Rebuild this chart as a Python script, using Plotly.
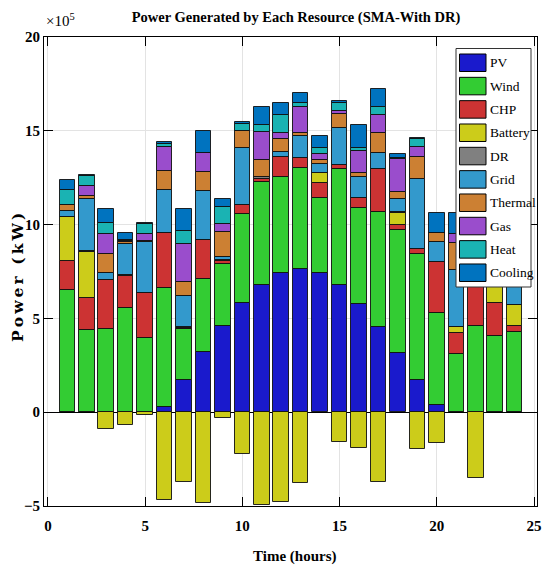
import plotly.graph_objects as go

# Hourly power by resource, in units of 1e5 kW
hours = list(range(1, 25))

pv = [0, 0, 0, 0, 0, 0.30, 1.71, 3.22, 4.59, 5.83, 6.77, 7.43,
      7.63, 7.43, 6.77, 5.76, 4.52, 3.13, 1.74, 0.37, 0, 0, 0, 0]
wind = [6.52, 4.37, 4.46, 5.53, 3.96, 6.31, 2.75, 3.86, 3.30, 4.71, 5.48, 5.12,
        5.37, 4.00, 6.17, 5.10, 6.15, 6.58, 6.69, 4.93, 3.09, 4.59, 4.05, 4.27]
chp = [1.55, 1.73, 2.58, 1.74, 2.39, 2.93, 0.05, 2.08, 0.15, 0.50, 0.17, 1.07,
       0.53, 0.80, 0.25, 0.55, 2.27, 0.26, 0.28, 2.70, 1.11, 2.60, 1.78, 0.33]
battery = [2.33, 2.45, -0.91, -0.66, -0.16, -4.66, -3.70, -4.84, -0.30, -2.21, -4.96, -4.77,
           -3.77, 0.53, -1.60, -1.92, -3.74, 0.66, -1.96, -1.65, 0.32, -3.52, 1.20, 1.14]
dr = [0, 0.03, 0, 0.05, 0, 0, 0.03, 0, 0.05, 0, 0.10, 0,
      0, 0, 0, 0, 0, 0.05, 0, 0, 0, 0, 0, 0]
grid = [0.34, 2.81, 0.39, 1.67, 2.70, 2.32, 1.66, 2.63, 0.16, 3.06, 0, 0.25,
        1.19, 0.47, 1.94, 1.14, 0.89, 0.71, 3.73, 1.07, 3.05, 1.50, 1.20, 1.80]
thermal = [0.33, 0.15, 1.00, 0.10, 0.05, 1.01, 0.76, 1.01, 1.33, 0.90, 0.90, 0.67,
           0.18, 0.21, 0.76, 0.18, 1.07, 0.34, 1.14, 0.46, 1.46, 0.60, 0.50, 0.50]
gas = [0, 0.50, 1.05, 0.05, 0.41, 1.26, 1.99, 1.03, 0.45, 0, 1.49, 0.32,
       1.38, 0.32, 0.18, 1.17, 0.92, 1.78, 0.57, 0, 0.46, 0.40, 0.40, 0.30]
heat = [0.80, 0.55, 0.62, 0.05, 0.50, 0.17, 0.73, 0, 0.89, 0.37, 0.38, 0.96,
        0.18, 0.30, 0.43, 0.16, 0.46, 0.05, 0.39, 0, 0, 0.30, 0.40, 0.30]
cooling = [0.50, 0.05, 0.71, 0.37, 0.05, 0.10, 1.17, 1.17, 0.42, 0.08, 0.96, 0.64,
           0.54, 0.66, 0.07, 1.23, 0.93, 0.23, 0.07, 1.07, 1.11, 0.60, 0.50, 0.50]

names = ["PV", "Wind", "CHP", "Battery", "DR", "Grid", "Thermal", "Gas", "Heat", "Cooling"]
series = [pv, wind, chp, battery, dr, grid, thermal, gas, heat, cooling]
colors = ["#1a1acc", "#33cc33", "#cc3333", "#cccc1a", "#808080",
          "#3399cc", "#cc8033", "#9a4dcc", "#1ab3b3", "#0073bf"]

x_ticks = [0, 5, 10, 15, 20, 25]
y_ticks = [-5, 0, 5, 10, 15, 20]

W, H = 548, 573
ML, MR, MT, MB = 44, 11, 37, 67
PW, PH = W - ML - MR, H - MT - MB


def px(x):
    return (x - ML) / PW


def py(y):
    return (H - MB - y) / PH


SERIF = "Liberation Serif"

fig = go.Figure()
for name, vals, col in zip(names, series, colors):
    fig.add_trace(go.Bar(
        x=hours, y=vals, name=name, width=0.8,
        marker=dict(color=col, line=dict(color="rgba(15,15,15,0.9)", width=1)),
        showlegend=False,
    ))

axis_common = dict(
    showline=True, linecolor="black", linewidth=1, mirror="ticks",
    ticks="inside", ticklen=9, tickwidth=1, tickcolor="black",
    showgrid=True, gridcolor="#e3e3e3", gridwidth=1,
    tickfont=dict(family=SERIF, size=15, color="black", weight="bold"),
)

fig.update_layout(
    width=W, height=H,
    margin=dict(l=ML, r=MR, t=MT, b=MB, autoexpand=False),
    paper_bgcolor="white", plot_bgcolor="white",
    barmode="relative", bargap=0,
    title=dict(
        text="Power Generated by Each Resource (SMA-With DR)",
        font=dict(family=SERIF, size=14.5, color="black", weight="bold"),
        x=px(296), xref="paper", xanchor="center",
        y=1 - 17 / H, yref="container", yanchor="middle",
    ),
    xaxis=dict(range=[-0.2, 25.15], tickvals=x_ticks, zeroline=False,
               ticklabelstandoff=6, automargin=False, **axis_common),
    yaxis=dict(range=[-5, 20], tickvals=y_ticks, zeroline=True, automargin=False,
               zerolinecolor="black", zerolinewidth=1, **axis_common),
)

annotations = [
    dict(text="×10<sup>5</sup>", x=px(44), y=py(20), xref="paper", yref="paper",
         xanchor="left", yanchor="middle", showarrow=False,
         font=dict(family=SERIF, size=15, color="black")),
    dict(text="Time (hours)", x=px(294), y=py(556), xref="paper", yref="paper",
         xanchor="center", yanchor="middle", showarrow=False,
         font=dict(family=SERIF, size=15, color="black", weight="bold")),
    dict(text="P\u2009o\u2009w\u2009e\u2009r\u2009 \u2009(\u2009k\u2009W\u2009)",
         x=px(17), y=py(278), xref="paper", yref="paper", textangle=-90,
         xanchor="center", yanchor="middle", showarrow=False,
         font=dict(family="DejaVu Serif", size=15.5, color="black", weight="bold")),
]

# Legend box with swatches
shapes = [dict(type="rect", xref="paper", yref="paper",
               x0=px(456), x1=px(531), y0=py(287), y1=py(48.5),
               fillcolor="white", line=dict(color="#333333", width=1))]
for i, (name, col) in enumerate(zip(names, colors)):
    top = 54 + i * 23.33
    shapes.append(dict(type="rect", xref="paper", yref="paper",
                       x0=px(459.5), x1=px(486), y0=py(top + 17.5), y1=py(top),
                       fillcolor=col, line=dict(color="black", width=1)))
    annotations.append(dict(text=name, x=px(488), y=py(top + 9), xref="paper", yref="paper",
                            xanchor="left", yanchor="middle", showarrow=False,
                            font=dict(family=SERIF, size=13.5, color="black")))

fig.update_layout(annotations=annotations, shapes=shapes)

fig.write_html("out.html")
